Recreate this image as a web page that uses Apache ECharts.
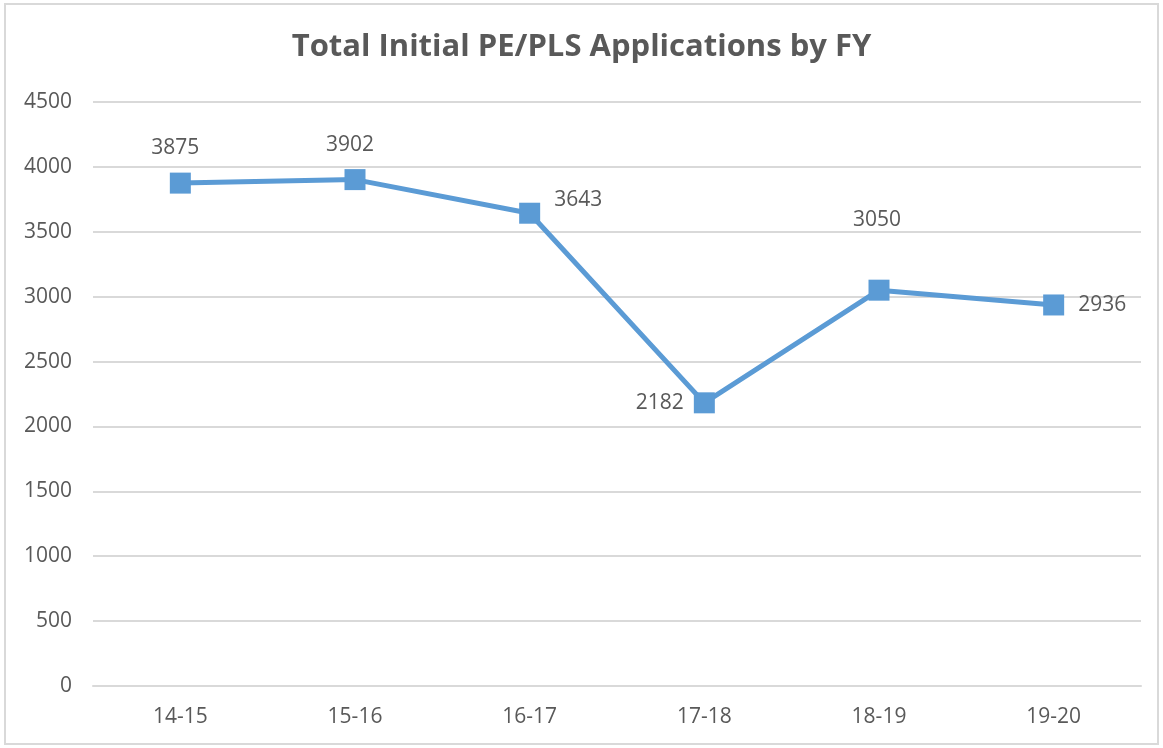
<!DOCTYPE html>
<html>
<head>
<meta charset="utf-8">
<script src="https://cdn.jsdelivr.net/npm/echarts@6/dist/echarts.min.js"></script>
<style>
html,body{margin:0;padding:0;background:#fff;}
#wrap{position:absolute;left:4px;top:3px;width:1155px;height:742px;border:2px solid #d9d9d9;box-sizing:border-box;}
#c{position:absolute;left:0;top:0;width:1163px;height:748px;}
</style>
</head>
<body>
<div id="wrap"></div>
<div id="c"></div>
<script>
const categories = ['14-15','15-16','16-17','17-18','18-19','19-20'];
const values = [3875, 3902, 3643, 2182, 3050, 2936];
const yTicks = [0, 500, 1000, 1500, 2000, 2500, 3000, 3500, 4000, 4500];

// label placement (style, not data)
const labelStyles = [
  {position: 'top', offset: [-5, 0]},
  {position: 'top', offset: [-5, 0]},
  {position: 'right', offset: [0, -13]},
  {position: 'left', offset: [4, 0]},
  {position: 'top', offset: [-2, -35]},
  {position: 'right', offset: [0, 0]}
];

const chart = echarts.init(document.getElementById('c'));
const textColor = '#595959';
const font = 'Open Sans';
chart.setOption({
  animation: false,
  title: {
    text: 'Total Initial PE/PLS Applications by FY',
    left: 'center',
    top: 27,
    textStyle: {color: textColor, fontSize: 31, fontWeight: 'bold', fontFamily: font}
  },
  grid: {left: 93, right: 22, top: 102, bottom: 62, containLabel: false},
  xAxis: {
    type: 'category',
    data: categories,
    boundaryGap: true,
    axisLine: {show: true, lineStyle: {color: '#d9d9d9', width: 2}},
    axisTick: {show: false},
    axisLabel: {color: textColor, fontSize: 21, margin: 21, fontFamily: font}
  },
  yAxis: {
    type: 'value',
    min: yTicks[0],
    max: yTicks[yTicks.length - 1],
    interval: 500,
    axisLine: {show: false},
    axisTick: {show: false},
    splitLine: {lineStyle: {color: '#d9d9d9', width: 2}},
    axisLabel: {color: textColor, fontSize: 21, margin: 21, fontFamily: font, formatter: v => String(v)}
  },
  series: [{
    type: 'line',
    data: values.map((v, i) => ({
      value: v,
      label: labelStyles[i]
    })),
    symbol: 'rect',
    symbolSize: 21,
    lineStyle: {color: '#5b9bd5', width: 5},
    itemStyle: {color: '#5b9bd5'},
    label: {show: true, color: textColor, fontSize: 21, distance: 14, fontFamily: font}
  }]
});
</script>
</body>
</html>
